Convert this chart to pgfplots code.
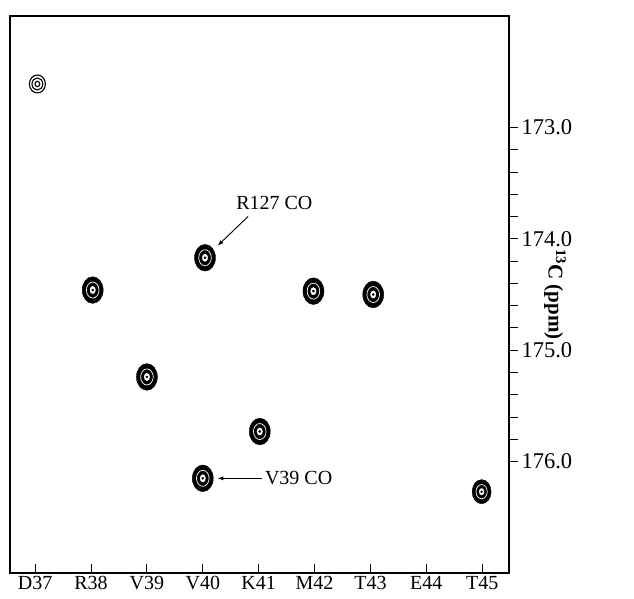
\documentclass[border=0pt]{standalone}
\usepackage{fontspec}
\setmainfont{Liberation Serif}
\usepackage{pgfplots}
\usepackage{pgfplotstable}
\pgfplotsset{compat=1.18}

% peak positions: x = residue index (D37 = 0), y = 13C shift in ppm
\pgfplotstableread{
x     y
1.03  174.46
2.00  175.24
3.04  174.17
4.02  175.73
4.98  174.47
6.05  174.50
3.00  176.15
}\bigpeaks
\pgfplotstableread{
x     y
7.99  176.27
}\smallpeaks
\pgfplotstableread{
x     y
0.04  172.61
}\weakpeak

\pgfplotsset{
  peakfill/.style={only marks, mark=*, mark size=#1,
    mark options={black, fill=black, yscale=1.27}},
  peakring/.style={only marks, mark=o, mark size=#1,
    mark options={white, line width=0.7pt, yscale=1.27}},
  peakcore/.style={only marks, mark=*, mark size=#1,
    mark options={white, fill=white, yscale=1.35}},
  peakdot/.style={only marks, mark=*, mark size=#1,
    mark options={black, fill=black}},
  contour/.style={only marks, mark=o, mark size=#1,
    mark options={black, line width=1.1pt, yscale=1.12}},
}

\begin{document}
\begin{tikzpicture}
\begin{axis}[
  name=nmr,
  width=499pt, height=557pt, scale only axis,
  xmin=-0.45, xmax=8.48,
  ymin=172, ymax=177, y dir=reverse,
  axis line style={line width=1.3pt},
  xtick={0,...,8},
  xticklabels={D37,R38,V39,V40,K41,M42,T43,E44,T45},
  xtick pos=bottom, xtick align=inside,
  ytick={173,174,175,176},
  minor y tick num=4,
  ytick pos=right, ytick align=outside,
  major tick length=9pt, minor tick length=9pt,
  tick style={black, line width=0.9pt},
  xticklabel style={font=\fontsize{20}{24}\selectfont},
  yticklabel style={font=\fontsize{22.5}{26}\selectfont,
    /pgf/number format/fixed,
    /pgf/number format/fixed zerofill, /pgf/number format/precision=1},
  /pgf/number format/assume math mode=true,
  clip=false,
]
\addplot[peakfill=10.5] table {\bigpeaks};
\addplot[peakring=6.3] table {\bigpeaks};
\addplot[peakcore=2.7] table {\bigpeaks};
\addplot[peakdot=1.1] table {\bigpeaks};

\addplot[peakfill=9.5] table {\smallpeaks};
\addplot[peakring=5.6] table {\smallpeaks};
\addplot[peakcore=2.4] table {\smallpeaks};
\addplot[peakdot=1] table {\smallpeaks};

\addplot[contour=8] table {\weakpeak};
\addplot[contour=5.4] table {\weakpeak};
\addplot[contour=2.4] table {\weakpeak};

% annotations
\node[font=\fontsize{20}{24}\selectfont] at (axis cs:4.28,173.68) {R127 CO};
\draw[-latex, line width=0.9pt] (axis cs:3.81,173.80) -- (axis cs:3.27,174.06);
\draw[-latex, line width=0.9pt] (axis cs:4.06,176.15) -- (axis cs:3.27,176.15);
\node[font=\fontsize{20}{24}\selectfont, anchor=west, inner sep=0pt]
  at (axis cs:4.11,176.15) {V39 CO};

\node[rotate=-90, font=\fontsize{21}{25}\selectfont\bfseries]
  at (axis description cs:1.092,0.50) {\textsuperscript{13}C (ppm)};
\end{axis}
\path (nmr.south west) ++(-10pt,-25pt) rectangle ++(634pt,598pt);
\end{tikzpicture}
\end{document}
